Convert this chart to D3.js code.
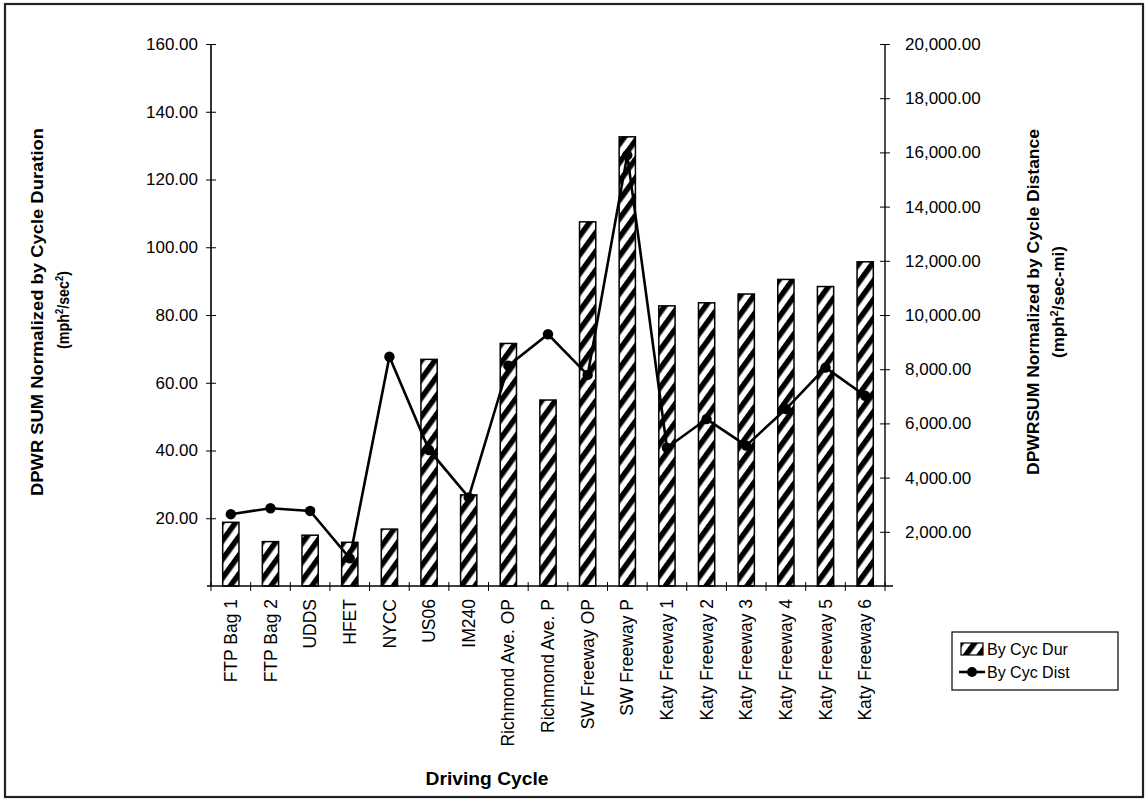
<!DOCTYPE html>
<html><head><meta charset="utf-8">
<script src="https://cdn.jsdelivr.net/npm/d3@7"></script>
<style>body{margin:0;background:#fff}svg{display:block}text{font-family:"Liberation Sans",Arial,sans-serif;fill:#000}</style>
</head><body><svg id="c" width="1147" height="799"></svg>
<script>
const categories = ["FTP Bag 1","FTP Bag 2","UDDS","HFET","NYCC","US06","IM240","Richmond Ave. OP","Richmond Ave. P","SW Freeway OP","SW Freeway P","Katy Freeway 1","Katy Freeway 2","Katy Freeway 3","Katy Freeway 4","Katy Freeway 5","Katy Freeway 6"];
const byCycDur = [18.8,13.1,15.0,12.9,16.8,66.9,26.9,71.6,54.9,107.5,132.6,82.7,83.6,86.2,90.5,88.4,95.7];
const byCycDist = [2650,2870,2770,1020,8460,5020,3270,8130,9290,7790,15900,5100,6160,5180,6530,8060,7020];
const leftTicks = [20,40,60,80,100,120,140,160];
const rightTicks = [2000,4000,6000,8000,10000,12000,14000,16000,18000,20000];
const seriesNames = ["By Cyc Dur","By Cyc Dist"];

const svg = d3.select("#c");
const L = 211, R = 885, T = 44, B = 586;

// frame
svg.append("rect").attr("x",5).attr("y",4).attr("width",1138).attr("height",793)
  .attr("fill","none").attr("stroke","#222").attr("stroke-width",2.2);

const defs = svg.append("defs");
const pat = defs.append("pattern").attr("id","hatch").attr("patternUnits","userSpaceOnUse")
  .attr("width",11).attr("height",11).attr("patternTransform","rotate(36)");
pat.append("rect").attr("width",11).attr("height",11).attr("fill","#fff");
pat.append("rect").attr("x",0).attr("width",5.5).attr("height",11).attr("fill","#000");

const x = d3.scaleBand().domain(categories).range([L,R]).paddingInner(0).paddingOuter(0);
const yL = d3.scaleLinear().domain([0,160]).range([B,T]);
const yR = d3.scaleLinear().domain([0,20000]).range([B,T]);
const bw = x.bandwidth()*0.41;

// bars
svg.append("g").selectAll("rect").data(categories).join("rect")
  .attr("x",(d)=>x(d)+x.bandwidth()/2-bw/2)
  .attr("y",(d,i)=>yL(byCycDur[i]))
  .attr("width",bw)
  .attr("height",(d,i)=>B-yL(byCycDur[i]))
  .attr("fill","url(#hatch)").attr("stroke","#000").attr("stroke-width",1.5);

// line
const line = d3.line().x((d,i)=>x(categories[i])+x.bandwidth()/2).y(d=>yR(d));
svg.append("path").datum(byCycDist).attr("d",line).attr("fill","none")
  .attr("stroke","#000").attr("stroke-width",2.6).attr("stroke-linejoin","miter");
svg.append("g").selectAll("circle").data(byCycDist).join("circle")
  .attr("cx",(d,i)=>x(categories[i])+x.bandwidth()/2).attr("cy",d=>yR(d)).attr("r",5.2)
  .attr("fill","#000");

const tickFont = "17px";
// left axis
const gl = svg.append("g").attr("transform",`translate(${L},0)`);
gl.call(d3.axisLeft(yL).tickValues(leftTicks).tickSize(5).tickFormat(d3.format(".2f")));
gl.selectAll(".tick line").attr("x1",5).attr("x2",-5);
gl.select(".domain").attr("d",`M0,${T}V${B}`).attr("stroke-width",1.6);
gl.selectAll(".tick text").attr("x",-13).style("font-size",tickFont).style("font-family","Liberation Sans, Arial");

// right axis
const gr = svg.append("g").attr("transform",`translate(${R},0)`);
gr.call(d3.axisRight(yR).tickValues(rightTicks).tickSize(5).tickFormat(d3.format(",.2f")));
gr.selectAll(".tick line").attr("x1",-5).attr("x2",5);
gr.select(".domain").attr("d",`M0,${T}V${B}`).attr("stroke-width",1.4);
gr.selectAll(".tick text").attr("x",20).style("font-size",tickFont).style("font-family","Liberation Sans, Arial");

// x axis
const gx = svg.append("g").attr("transform",`translate(0,${B})`);
gx.call(d3.axisBottom(x).tickSize(0).tickFormat(d=>d));
gx.select(".domain").attr("d",`M${L-4},0H${R+8}`).attr("stroke-width",1.6);
gx.selectAll(".tick text").attr("transform","rotate(-90)").attr("x",-13).attr("y",0).attr("dy","0.35em")
  .attr("text-anchor","end").style("font-size","17.5px").style("font-family","Liberation Sans, Arial");
// boundary ticks
const bounds = categories.map(d=>x(d)).concat([R]);
gx.append("g").selectAll("line").data(bounds).join("line")
  .attr("x1",d=>d).attr("x2",d=>d).attr("y1",-4).attr("y2",5).attr("stroke","#000").attr("stroke-width",1);

// axis titles
svg.append("text").attr("transform","translate(43,312) rotate(-90)").attr("text-anchor","middle")
  .style("font-weight","bold").style("font-size","17px").attr("textLength",368).attr("lengthAdjust","spacingAndGlyphs")
  .text("DPWR SUM Normalized by Cycle Duration");
const t2 = svg.append("text").attr("transform","translate(69,310) rotate(-90)").attr("text-anchor","middle")
  .style("font-weight","bold").style("font-size","17px").attr("textLength",78).attr("lengthAdjust","spacingAndGlyphs");
t2.append("tspan").text("(mph");
t2.append("tspan").attr("dy",-6).style("font-size","11px").text("2");
t2.append("tspan").attr("dy",6).text("/sec");
t2.append("tspan").attr("dy",-6).style("font-size","11px").text("2");
t2.append("tspan").attr("dy",6).text(")");

svg.append("text").attr("transform","translate(1039,302) rotate(-90)").attr("text-anchor","middle")
  .style("font-weight","bold").style("font-size","17px").attr("textLength",346).attr("lengthAdjust","spacingAndGlyphs")
  .text("DPWRSUM Normalized by Cycle Distance");
const t4 = svg.append("text").attr("transform","translate(1064,302) rotate(-90)").attr("text-anchor","middle")
  .style("font-weight","bold").style("font-size","17px").attr("textLength",112).attr("lengthAdjust","spacingAndGlyphs");
t4.append("tspan").text("(mph");
t4.append("tspan").attr("dy",-6).style("font-size","11px").text("2");
t4.append("tspan").attr("dy",6).text("/sec-mi)");

svg.append("text").attr("x",487).attr("y",785).attr("text-anchor","middle")
  .style("font-weight","bold").style("font-size","19px").attr("textLength",123).attr("lengthAdjust","spacingAndGlyphs")
  .text("Driving Cycle");

// legend
const lg = svg.append("g").attr("transform","translate(952,632)");
lg.append("rect").attr("width",166).attr("height",58).attr("fill","#fff").attr("stroke","#000").attr("stroke-width",1.2);
lg.append("rect").attr("x",9).attr("y",11).attr("width",22).attr("height",12).attr("fill","url(#hatch)").attr("stroke","#000").attr("stroke-width",1.2);
lg.append("text").attr("x",35).attr("y",23).style("font-size","16px").text(seriesNames[0]);
lg.append("line").attr("x1",7).attr("x2",33).attr("y1",40).attr("y2",40).attr("stroke","#000").attr("stroke-width",2.6);
lg.append("circle").attr("cx",20).attr("cy",40).attr("r",5).attr("fill","#000");
lg.append("text").attr("x",35).attr("y",46).style("font-size","16px").text(seriesNames[1]);
</script></body></html>
